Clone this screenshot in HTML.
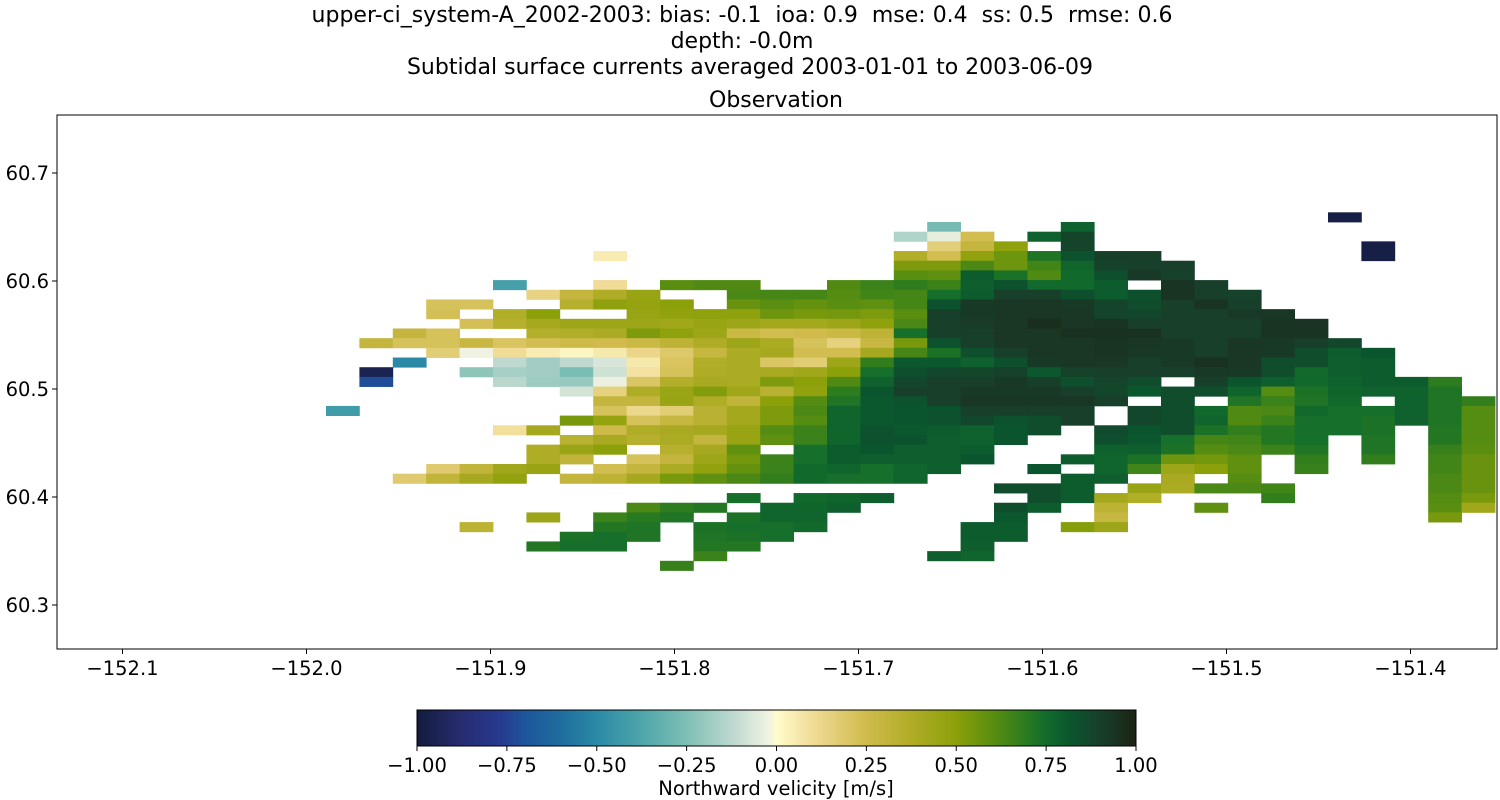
<!DOCTYPE html>
<html><head><meta charset="utf-8"><style>
html,body{margin:0;padding:0;background:#fff;}
svg{display:block;font-family:"DejaVu Sans","Liberation Sans",sans-serif;}
</style></head><body>
<svg id="fig" width="1500" height="800" xmlns="http://www.w3.org/2000/svg">
<text x="742" y="22" font-size="22" text-anchor="middle" style="white-space:pre">upper-ci_system-A_2002-2003: bias: -0.1  ioa: 0.9  mse: 0.4  ss: 0.5  rmse: 0.6</text>
<text x="742" y="48" font-size="22" text-anchor="middle">depth: -0.0m</text>
<text x="750" y="74" font-size="22" text-anchor="middle">Subtidal surface currents averaged 2003-01-01 to 2003-06-09</text>
<text x="776" y="107" font-size="22" text-anchor="middle">Observation</text>
<defs><clipPath id="axclip"><rect x="57" y="115" width="1440" height="534"/></clipPath>
<linearGradient id="cbgrad" x1="0" x2="1" y1="0" y2="0"></linearGradient></defs>
<g id="cells" clip-path="url(#axclip)"></g>
<rect x="57" y="115" width="1440" height="534" fill="none" stroke="#000" stroke-width="1"/>
<g id="xaxis"></g>
<g id="yaxis"></g>
<g id="cbar"></g>
<text x="776" y="795" font-size="19.5" text-anchor="middle">Northward velicity [m/s]</text>
</svg>
<script>
const xTicks = [-152.1, -152.0, -151.9, -151.8, -151.7, -151.6, -151.5, -151.4];
const xTickLabels = ["\u2212152.1","\u2212152.0","\u2212151.9","\u2212151.8","\u2212151.7","\u2212151.6","\u2212151.5","\u2212151.4"];
const yTicks = [60.3, 60.4, 60.5, 60.6, 60.7];
const yTickLabels = ["60.3","60.4","60.5","60.6","60.7"];
const cbTicks = [-1, -0.75, -0.5, -0.25, 0, 0.25, 0.5, 0.75, 1];
const cbTickLabels = ["\u22121.00","\u22120.75","\u22120.50","\u22120.25","0.00","0.25","0.50","0.75","1.00"];
const lonStart = -151.9894;
const lonStep = 0.018152;
const latTop = 60.66359;
const latStep = 0.008963;
const N = null;
const rowStart = [30,18,17,18,8,17,17,5,6,3,3,4,2,1,3,2,1,1,7,8,0,7,5,7,6,6,3,2,20,12,9,6,4,7,6,11,10];
const rowValues = [
[-0.98],
[-0.27,N,N,N,0.78],
[-0.15,-0.04,0.24,N,0.78,0.88],
[0.16,0.30,0.49,N,0.88,N,N,N,N,N,N,N,N,-0.98],
[0.05,N,N,N,N,N,N,N,N,0.37,0.24,0.48,0.56,0.72,0.83,0.90,0.90,N,N,N,N,N,N,-0.98],
[0.53,0.53,0.63,0.56,0.65,0.77,0.89,0.90,0.90],
[0.60,0.59,0.80,0.73,0.62,0.76,0.84,0.92,0.89],
[-0.40,N,N,0.10,N,0.60,0.62,0.62,N,N,0.62,0.66,0.69,0.66,0.79,0.83,0.76,0.76,0.80,N,0.94,0.90],
[0.14,0.30,0.38,0.46,N,N,0.63,0.64,0.64,0.61,0.65,0.64,0.74,0.80,0.90,0.90,0.84,0.80,0.84,0.94,0.90,0.89],
[0.22,0.22,N,N,0.35,0.49,0.47,0.50,N,0.57,0.60,0.58,0.60,0.59,0.64,0.83,0.92,0.93,0.93,0.92,0.88,0.85,0.90,0.94,0.90],
[0.23,N,0.37,0.50,N,N,0.46,0.48,0.49,0.49,0.56,0.54,0.55,0.53,0.60,0.90,0.92,0.93,0.93,0.93,0.88,0.87,0.90,0.90,0.92,0.93],
[0.23,0.35,0.41,0.44,0.44,0.44,0.43,0.46,0.44,0.42,0.42,0.44,0.49,0.63,0.90,0.91,0.93,0.96,0.93,0.94,0.90,0.90,0.90,0.90,0.94,0.94],
[0.30,0.22,N,N,0.36,0.37,0.39,0.53,0.49,0.44,0.27,0.24,0.25,0.27,0.32,0.74,0.90,0.90,0.93,0.93,0.95,0.95,0.95,0.90,0.90,0.90,0.94,0.94],
[0.30,0.22,0.22,0.28,0.21,0.24,0.26,0.25,0.27,0.32,0.38,0.44,0.39,0.22,0.15,0.28,0.54,0.83,0.90,0.93,0.93,0.93,0.94,0.93,0.92,0.90,0.93,0.92,0.90,0.87],
[0.17,-0.02,0.10,0.05,0.02,0.06,0.13,0.19,0.29,0.39,0.41,0.24,0.24,0.41,0.64,0.73,0.84,0.90,0.93,0.93,0.94,0.92,0.92,0.90,0.93,0.92,0.85,0.80,0.82],
[-0.50,N,N,-0.12,-0.18,-0.12,-0.07,0.06,0.21,0.37,0.39,0.20,0.17,0.44,0.68,0.81,0.81,0.78,0.84,0.92,0.93,0.93,0.90,0.92,0.95,0.93,0.85,0.85,0.79,0.80],
[-0.95,N,N,-0.22,-0.17,-0.18,-0.26,-0.09,0.08,0.22,0.38,0.39,0.40,0.43,0.50,0.74,0.84,0.87,0.87,0.89,0.81,0.89,0.90,0.90,0.90,0.92,0.92,0.85,0.76,0.79,0.80],
[-0.72,N,N,N,-0.13,-0.19,-0.20,-0.03,0.20,0.36,0.40,0.39,0.53,0.50,0.62,0.78,0.87,0.90,0.90,0.92,0.90,0.84,0.88,0.85,N,0.90,0.82,0.79,0.76,0.78,0.80,0.80,0.69],
[-0.08,0.15,0.38,0.45,0.52,0.43,0.34,0.48,0.69,0.82,0.90,0.90,0.92,0.92,0.92,0.90,0.87,0.81,0.85,0.85,0.77,0.61,0.73,0.77,0.78,0.78,0.72],
[0.30,0.30,0.46,0.38,0.31,0.50,0.61,0.72,0.81,0.83,0.90,0.93,0.93,0.93,0.93,0.90,N,0.85,N,0.72,0.66,0.72,0.76,N,0.78,0.72,0.68],
[-0.42,N,N,N,N,N,N,N,0.22,0.12,0.17,0.34,0.42,0.53,0.63,0.77,0.81,0.82,0.83,0.90,0.90,0.90,0.90,N,0.87,0.85,0.76,0.62,0.63,0.76,0.74,0.74,0.78,0.72,0.61],
[0.54,0.47,0.22,0.29,0.34,0.42,0.53,0.61,0.77,0.81,0.82,0.83,0.87,0.83,0.85,0.90,N,0.87,0.85,0.77,0.62,0.66,0.74,0.74,0.73,0.78,0.72,0.61],
[0.09,0.41,N,0.26,0.38,0.40,0.41,0.46,0.61,0.66,0.77,0.83,0.81,0.80,0.78,0.82,0.85,N,0.86,0.82,0.85,0.73,0.68,0.71,0.74,0.74,0.73,N,0.71,0.61],
[0.34,0.40,0.35,0.39,0.30,0.46,0.59,0.66,0.77,0.83,0.83,0.79,0.78,0.82,N,N,0.84,0.81,0.74,0.64,0.65,0.71,0.74,N,0.72,N,0.71,0.61],
[0.38,0.45,0.50,N,0.35,0.41,0.59,N,0.74,0.80,0.82,0.79,0.79,0.80,N,N,N,0.78,0.79,0.73,0.61,0.63,0.66,0.72,N,0.72,N,0.67,0.60],
[0.38,0.31,N,0.22,0.30,0.44,0.55,0.66,0.74,0.80,0.79,0.79,0.79,0.82,N,N,0.80,0.77,0.73,0.56,0.55,0.59,N,0.68,N,0.68,N,0.65,0.57],
[0.18,0.31,0.43,0.46,N,0.24,0.30,0.39,0.48,0.58,0.66,0.76,0.77,0.74,0.77,0.79,N,N,0.82,N,0.77,0.65,0.44,0.50,0.59,N,0.67,N,N,N,0.65,0.57],
[0.18,0.31,0.41,0.48,N,0.30,0.33,0.41,0.54,0.59,0.63,0.68,0.76,0.74,0.74,0.77,N,N,N,N,0.80,0.79,N,0.40,N,0.61,N,N,N,N,N,0.63,0.57],
[0.85,0.85,0.80,N,0.46,0.39,0.63,0.63,0.65,N,N,N,N,0.63,0.57],
[0.74,N,0.76,0.77,0.79,N,N,N,N,0.85,0.80,0.42,0.37,N,N,N,0.68,N,N,N,N,0.61,0.54],
[0.63,0.69,0.71,N,0.77,0.77,0.79,N,N,N,N,0.85,0.80,N,0.33,N,N,0.59,N,N,N,N,N,N,0.60,0.43],
[0.44,N,0.66,0.70,0.72,N,0.73,0.77,0.77,N,N,N,N,N,0.81,N,N,0.29,N,N,N,N,N,N,N,N,N,0.54],
[0.33,N,N,N,0.71,0.72,N,0.73,0.74,0.74,0.76,N,N,N,N,0.80,0.80,N,0.51,0.44],
[0.73,0.74,0.72,N,0.72,0.73,0.74,N,N,N,N,N,0.80,0.80],
[0.71,0.74,0.74,N,N,0.71,0.71,N,N,N,N,N,N,0.79],
[0.66,N,N,N,N,N,N,0.79,0.77],
[0.67]
];
const cmapStops = [
[-1,"#131c3d"],[-0.88,"#262c6e"],[-0.77,"#27398f"],[-0.7,"#1d559b"],[-0.6,"#1f6d9e"],[-0.5,"#2a8aa6"],
[-0.375,"#4ea6aa"],[-0.25,"#7ebfb5"],[-0.125,"#bcd8cf"],[-0.02,"#f1f3e2"],[0,"#fffccc"],[0.1,"#f0dc97"],
[0.25,"#d0bb4c"],[0.375,"#b0ad27"],[0.5,"#8ca00a"],[0.6,"#5a8e10"],[0.7,"#287a20"],[0.75,"#126c2c"],
[0.82,"#0b552e"],[0.9,"#173f2a"],[1,"#1c2315"]];
function hex2rgb(h){return [1,3,5].map(i=>parseInt(h.substr(i,2),16));}
function cmap(v){
  v=Math.max(-1,Math.min(1,v));
  for(let i=0;i<cmapStops.length-1;i++){
    const a=cmapStops[i],b=cmapStops[i+1];
    if(v<=b[0]){const t=(v-a[0])/(b[0]-a[0]);const ca=hex2rgb(a[1]),cb=hex2rgb(b[1]);
      return "rgb("+ca.map((c,k)=>Math.round(c+(cb[k]-c)*t)).join(",")+")";}
  }
  return cmapStops[cmapStops.length-1][1];
}
const xScale = lon => 122.5 + (lon + 152.1) * 1840;
const yScale = lat => 173 + (60.7 - lat) * 1080;
const cbScale = v => 417 + (v + 1) / 2 * 719;
const NS="http://www.w3.org/2000/svg";
function mk(tag,attrs,parent){const e=document.createElementNS(NS,tag);for(const k in attrs)e.setAttribute(k,attrs[k]);parent.appendChild(e);return e;}
const cells=document.getElementById('cells');
rowValues.forEach((vals,r)=>{
  const lt=latTop - r*latStep, lb=lt-latStep;
  vals.forEach((v,j)=>{
    if(v===null)return;
    const c=rowStart[r]+j;
    const l0=lonStart+c*lonStep, l1=l0+lonStep;
    const x0=xScale(l0), x1=xScale(l1), y0=yScale(lt), y1=yScale(lb);
    const el=mk('rect',{x:x0.toFixed(2),y:y0.toFixed(2),width:(x1-x0+0.4).toFixed(2),height:(y1-y0+0.4).toFixed(2),fill:cmap(v)},cells);
    
    
  });
});
const xa=document.getElementById('xaxis');
xTicks.forEach((t,i)=>{
  const x=xScale(t);
  const tk=mk('line',{x1:x,x2:x,y1:649,y2:654,stroke:'#000','stroke-width':1},xa);
  
  
  const lb=mk('text',{x:x,y:675,'font-size':19.5,'text-anchor':'middle'},xa);
  
  
  lb.textContent=xTickLabels[i];
});
const ya=document.getElementById('yaxis');
yTicks.forEach((t,i)=>{
  const y=yScale(t);
  const tk=mk('line',{x1:52,x2:57,y1:y,y2:y,stroke:'#000','stroke-width':1},ya);
  
  
  const lb=mk('text',{x:49,y:y+7,'font-size':19.5,'text-anchor':'end'},ya);
  
  
  lb.textContent=yTickLabels[i];
});
const grad=document.getElementById('cbgrad');
for(let i=0;i<=100;i++){const v=-1+i/50;mk('stop',{offset:(i)+'%','stop-color':cmap(v)},grad);}
const cb=document.getElementById('cbar');
const cbr=mk('rect',{x:417,y:710,width:719,height:36,fill:'url(#cbgrad)',stroke:'#000','stroke-width':1},cb);


cbTicks.forEach((t,i)=>{
  const x=cbScale(t);
  const tk=mk('line',{x1:x,x2:x,y1:746,y2:751,stroke:'#000','stroke-width':1},cb);
  
  
  const lb=mk('text',{x:x,y:772,'font-size':19.5,'text-anchor':'middle'},cb);
  
  
  lb.textContent=cbTickLabels[i];
});
</script>
</body></html>
